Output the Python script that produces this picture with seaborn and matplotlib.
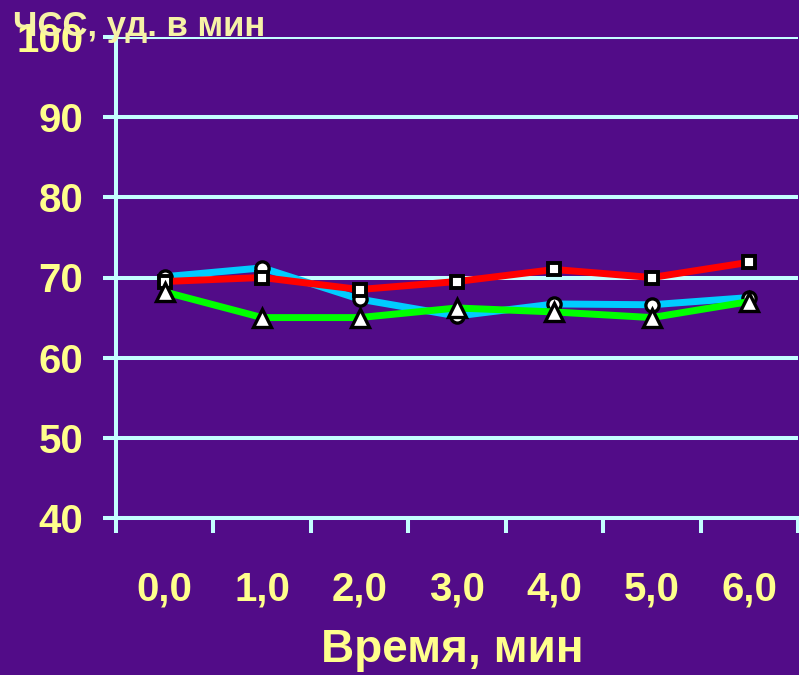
import numpy as np
import pandas as pd
import matplotlib
matplotlib.use("Agg")
import matplotlib.pyplot as plt
import seaborn as sns

# ---- data ----
time_min = [0, 1, 2, 3, 4, 5, 6]
time_labels = ["0,0", "1,0", "2,0", "3,0", "4,0", "5,0", "6,0"]
hr_cyan = [70.1, 71.2, 67.3, 65.2, 66.7, 66.6, 67.5]
hr_red = [69.5, 70.0, 68.5, 69.5, 71.0, 70.0, 71.9]
hr_green = [68.2, 65.0, 65.0, 66.2, 65.7, 65.0, 67.0]
y_ticks = [40, 50, 60, 70, 80, 90, 100]

sns.set_theme(style="white")
plt.rcParams['font.family'] = ['Liberation Sans', 'DejaVu Sans']

BG = '#520C88'
GRID = '#C4FFFF'
TXT = '#FFFF8C'

fig = plt.figure(figsize=(7.99, 6.75), dpi=100, facecolor=BG)
ax = fig.add_axes([116/799, 1-518/675, (798-116)/799, (518-37)/675])
ax.set_facecolor(BG)

series = [
    (hr_cyan, '#00CCFF', 'o', 9.5, 2.4),
    (hr_red, '#FF0000', 's', 8.5, 2.8),
    (hr_green, '#00FF00', '^', 12.5, 2.4),
]
for vals, col, mk, ms, mew in series:
    df = pd.DataFrame({'t': time_min, 'hr': vals})
    sns.lineplot(data=df, x='t', y='hr', ax=ax, color=col, linewidth=5.0,
                 marker=mk, markersize=ms, markerfacecolor='white',
                 markeredgecolor='black', markeredgewidth=mew, zorder=3)

ax.set_xlim(-0.5, 6.5)
ax.set_ylim(40, 100)
ax.set_yticks(y_ticks)
ax.set_yticklabels([str(v) for v in y_ticks])
ax.set_xticks([i - 0.5 for i in range(8)])
ax.set_xticklabels([])
ax.set_xticks(time_min, minor=True)
ax.set_xticklabels(time_labels, minor=True)

ax.yaxis.grid(True, color=GRID, linewidth=2.9, zorder=1)
ax.xaxis.grid(False)
ax.set_axisbelow(True)
for s in ['top', 'right']:
    ax.spines[s].set_visible(False)
for s in ['left', 'bottom']:
    ax.spines[s].set_color(GRID)
    ax.spines[s].set_linewidth(2.9)
    ax.spines[s].set_zorder(2)

ax.tick_params(axis='y', which='major', direction='out', length=9.5, width=2.9,
               color=GRID, labelcolor=TXT, labelsize=29, pad=14, left=True)
ax.tick_params(axis='x', which='major', direction='out', length=11, width=2.9,
               color=GRID, bottom=True)
ax.tick_params(axis='x', which='minor', length=0, labelcolor=TXT, labelsize=29,
               pad=38, bottom=True)
for lab in ax.get_yticklabels() + ax.get_xticklabels(minor=True):
    lab.set_fontweight('bold')

ax.set_xlabel('')
ax.set_ylabel('')

fig.text(452/799, 1-650/675, 'Время, мин', color=TXT, fontsize=33,
         fontweight='bold', ha='center', va='center')
fig.text(13/799, 1-36/675, 'ЧСС, уд. в мин', color='#F6F2A6', fontsize=25,
         fontweight='bold', ha='left', va='baseline', zorder=5)

fig.savefig('out.png', dpi=100, facecolor=BG)
